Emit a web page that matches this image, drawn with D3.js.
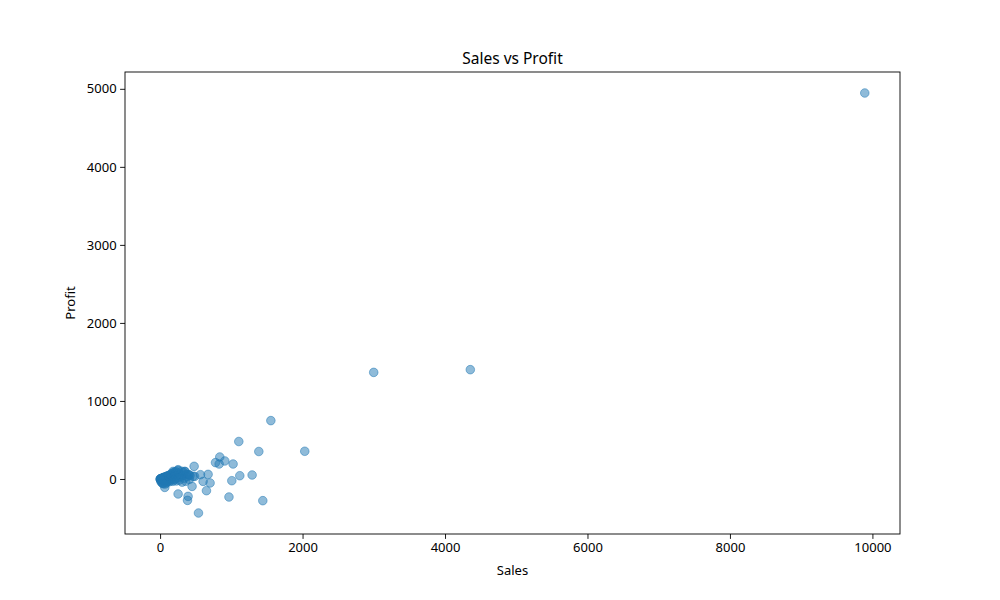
<!DOCTYPE html>
<html>
<head>
<meta charset="utf-8">
<script src="https://cdn.jsdelivr.net/npm/d3@7/dist/d3.min.js"></script>
<style>
  html, body { margin: 0; padding: 0; background: #fff; }
  svg { display: block; }
  text { font-family: "Noto Sans", "Open Sans", sans-serif; fill: #000; }
</style>
</head>
<body>
<svg id="chart" width="1000" height="600"></svg>
<script>
// ---- Data ----
const sales = [
  9892.7, 2999, 4355, 1555, 2031, 1105, 1386, 1442, 967, 778, 838, 909, 829, 1025,
  1119, 1007, 1292, 674, 702, 651, 539, 393, 385, 253, 478, 449, 567, 463, 604, 66,
  347, 253, 183, 407, 485,
  2, 5, 8, 10, 12, 15, 18, 20, 22, 25, 28, 30, 32, 35, 38, 40, 42, 45, 48, 50,
  52, 55, 58, 60, 62, 65, 68, 70, 72, 75, 78, 80, 85, 88, 90, 95, 98, 100, 105, 110,
  115, 120, 125, 130, 135, 140, 145, 150, 155, 160, 165, 170, 175, 180, 185, 190, 195,
  200, 205, 210, 215, 220, 225, 230, 240, 250, 255, 260, 270, 280, 290, 300, 310, 320,
  330, 340, 350, 360, 370, 380, 395, 410, 420,
  3, 6, 9, 14, 24, 33, 44, 70
];
const profit = [
  4946.5, 1366, 1401, 748, 355, 480, 352, -278, -231, 210, 282, 231, 192, 192,
  42, -22, 51, 59, -51, -150, -436, -223, -274, -192, 162, -95, 55, 33, -31, -108,
  97, 119, 97, 55, 33,
  1, -2, 3, 2, -4, 5, -8, 6, -3, 8, -12, 10, 4, -15, 12, -6, 15, -20, 9, 18,
  -10, 22, -25, 14, 5, -30, 25, -8, 16, -40, 28, 10, -18, 30, -50, 20, 35, -12, 40, 8,
  -25, 45, 15, -35, 50, 22, -5, 60, 30, -20, 70, 12, 38, -30, 80, 25, 55,
  -10, 90, 40, 65, 5, 95, -25, 48, 110, 20, 75, -15, 60, 35, 100, -40, 50,
  85, 10, 95, -30, 60, 30, 55, -5, 45,
  -5, -1, -20, -35, -45, -55, -60, -65
];
const xTicks = [0, 2000, 4000, 6000, 8000, 10000];
const yTicks = [0, 1000, 2000, 3000, 4000, 5000];
const titleText = "Sales vs Profit";
const xLabel = "Sales";
const yLabel = "Profit";

// ---- Layout ----
const M = { left: 125, right: 900, top: 72, bottom: 534 };

const svg = d3.select("#chart");

const xmin = d3.min(sales), xmax = d3.max(sales);
const ymin = d3.min(profit), ymax = d3.max(profit);
const xm = (xmax - xmin) * 0.05, ym = (ymax - ymin) * 0.05;

const x = d3.scaleLinear().domain([xmin - xm, xmax + xm]).range([M.left, M.right]);
const y = d3.scaleLinear().domain([ymin - ym, ymax + ym]).range([M.bottom, M.top]);

const data = sales.map((s, i) => ({ s, p: profit[i] }));

// points
svg.append("g")
  .selectAll("circle")
  .data(data)
  .enter().append("circle")
  .attr("cx", d => x(d.s))
  .attr("cy", d => y(d.p))
  .attr("r", 4.3)
  .attr("fill", "#1f77b4")
  .attr("fill-opacity", 0.5)
  .attr("stroke", "#1f77b4")
  .attr("stroke-opacity", 0.5)
  .attr("stroke-width", 1);

// axes
const xAxis = d3.axisBottom(x).tickValues(xTicks).tickSize(4.9).tickPadding(3.5).tickFormat(d3.format("d"));
const yAxis = d3.axisLeft(y).tickValues(yTicks).tickSize(4.9).tickPadding(3.5).tickFormat(d3.format("d"));

const gx = svg.append("g").attr("transform", `translate(0,${M.bottom})`).call(xAxis);
const gy = svg.append("g").attr("transform", `translate(${M.left},0)`).call(yAxis);
[gx, gy].forEach(g => {
  g.select(".domain").remove();
  g.selectAll(".tick line").attr("stroke", "#000").attr("stroke-width", 0.9);
  g.selectAll(".tick text").attr("font-size", 13).attr("fill", "#000")
    .style("font-family", '"Noto Sans", "Open Sans", sans-serif');
});

// frame
svg.append("rect")
  .attr("x", M.left).attr("y", M.top)
  .attr("width", M.right - M.left).attr("height", M.bottom - M.top)
  .attr("fill", "none").attr("stroke", "#000").attr("stroke-width", 0.9);

// title and labels
svg.append("text")
  .attr("x", (M.left + M.right) / 2).attr("y", 64)
  .attr("text-anchor", "middle").attr("font-size", 15.5)
  .text(titleText);

svg.append("text")
  .attr("x", (M.left + M.right) / 2).attr("y", 575)
  .attr("text-anchor", "middle").attr("font-size", 13)
  .text(xLabel);

svg.append("text")
  .attr("transform", `translate(75,${(M.top + M.bottom) / 2}) rotate(-90)`)
  .attr("text-anchor", "middle").attr("font-size", 13)
  .text(yLabel);
</script>
</body>
</html>
